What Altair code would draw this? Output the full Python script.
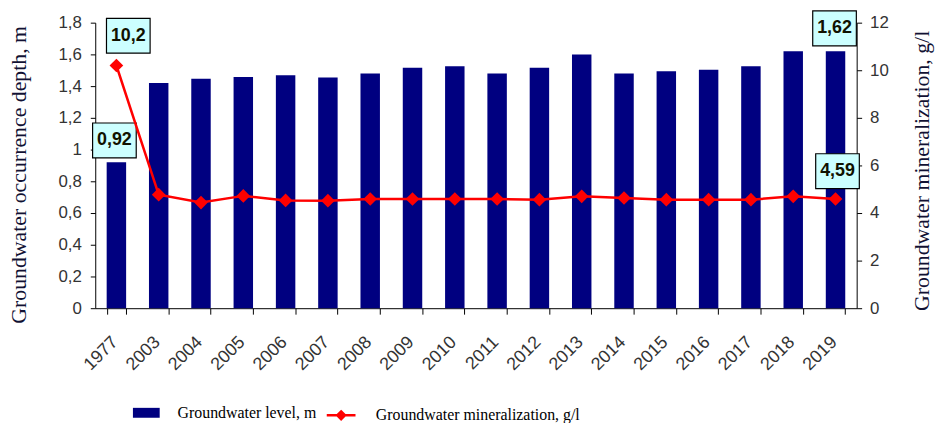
import altair as alt
import pandas as pd

years = ["1977", "2003", "2004", "2005", "2006", "2007", "2008", "2009", "2010",
         "2011", "2012", "2013", "2014", "2015", "2016", "2017", "2018", "2019"]
level = [0.92, 1.42, 1.447, 1.457, 1.468, 1.455, 1.48, 1.515, 1.526,
         1.48, 1.515, 1.60, 1.48, 1.493, 1.503, 1.526, 1.62, 1.62]
mineral = [10.2, 4.77, 4.44, 4.72, 4.53, 4.52, 4.59, 4.59, 4.59,
           4.59, 4.56, 4.70, 4.63, 4.56, 4.56, 4.56, 4.70, 4.59]
left_ticks = [0, 0.2, 0.4, 0.6, 0.8, 1.0, 1.2, 1.4, 1.6, 1.8]
right_ticks = [0, 2, 4, 6, 8, 10, 12]
level_name = "Groundwater level, m"
mineral_name = "Groundwater mineralization, g/l"

df = pd.DataFrame({"year": years, "level": level, "mineral": mineral})
df["lvl"] = level_name
df["mnr"] = mineral_name

SERIF = "Liberation Serif"
SANS = "Liberation Sans"
comma_expr = "replace(format(datum.value, '~g'), '.', ',')"

X = alt.X("year:N", sort=None, title=None,
          scale=alt.Scale(paddingInner=0.54, paddingOuter=0.27),
          axis=alt.Axis(tickBand="extent", labelAngle=-45, labelAlign="right",
                        labelBaseline="top", labelOffset=-8, labelPadding=19,
                        tickSize=6, labelFont=SANS, labelFontSize=18,
                        labelColor="#333333", domainColor="black",
                        tickColor="black"))

Yl = alt.Y("level:Q", title="Groundwater occurrence depth, m",
           scale=alt.Scale(domain=[0, 1.8], nice=False),
           axis=alt.Axis(values=left_ticks, labelExpr=comma_expr, grid=False,
                         tickSize=5, labelPadding=9, labelFont=SANS,
                         labelFontSize=17, labelColor="#333333",
                         domainColor="black", tickColor="black",
                         titleFont=SERIF, titleFontSize=22,
                         titleFontWeight="normal", titleColor="#111133",
                         titleX=-77, titleY=153, titleBaseline="middle",
                         titleAngle=-90))

Yr = alt.Y("mineral:Q", title="Groundwater mineralization, g/l",
           scale=alt.Scale(domain=[0, 12], nice=False),
           axis=alt.Axis(orient="right", values=right_ticks, grid=False,
                         tickSize=5, labelPadding=8, labelFont=SANS,
                         labelFontSize=17, labelColor="#333333",
                         domainColor="black", tickColor="black",
                         titleFont=SERIF, titleFontSize=22,
                         titleFontWeight="normal", titleColor="#111133",
                         titleX=65, titleY=149, titleBaseline="middle",
                         titleAngle=-90))

BOX = "M-1,-0.8 L1,-0.8 L1,0.8 L-1,0.8 Z"

base_l = alt.Chart(df).encode(x=X, y=Yl)
base_r = alt.Chart(df).encode(x=X, y=Yr)


def annot(base, year, field, dx, dy):
    sub = base.transform_filter(alt.datum.year == year).transform_calculate(
        lab=f"replace(format(datum.{field}, '~g'), '.', ',')")
    box = sub.mark_point(shape=BOX, size=1936, filled=True, fill="#CCFFFF",
                         stroke="black", strokeWidth=1.2, opacity=1,
                         xOffset=dx, yOffset=dy)
    txt = sub.mark_text(font=SANS, fontSize=18, fontWeight="bold",
                        color="#111100", dx=dx, dy=dy, baseline="middle",
                        align="center").encode(text="lab:N")
    return [box, txt]


bars = base_l.mark_bar(color="#000080").encode(
    color=alt.Color("lvl:N", scale=alt.Scale(range=["#000080"]),
                    legend=alt.Legend(orient="none", legendX=38, legendY=380,
                                      title=None, padding=0, labelLimit=400,
                                      symbolType="M-1,-0.37 L1,-0.37 L1,0.37 L-1,0.37 Z",
                                      symbolSize=729, symbolStrokeWidth=0,
                                      labelFont=SERIF, labelFontSize=16,
                                      labelColor="black", labelOffset=18)))

left = alt.layer(bars,
                 *annot(base_l, "1977", "level", -2, -22),
                 *annot(base_l, "2019", "level", -1, -23))

line = base_r.mark_line(strokeWidth=2.5).encode(
    stroke=alt.Stroke("mnr:N", scale=alt.Scale(range=["#FF0000"]),
                      legend=alt.Legend(orient="none", legendX=232, legendY=380,
                                        title=None, padding=0, labelLimit=400,
                                        symbolType="M-1,0 L1,0 M0,-0.27 L0.27,0 L0,0.27 L-0.27,0 Z",
                                        symbolSize=841, symbolStrokeWidth=2.5,
                                        symbolFillColor="#FF0000",
                                        labelFont=SERIF, labelFontSize=16,
                                        labelColor="black", labelOffset=19)))
pts = base_r.mark_point(shape="diamond", size=190, filled=True,
                        color="#FF0000", opacity=1)

right = alt.layer(line, pts,
                  *annot(base_r, "1977", "mineral", 12, -30),
                  *annot(base_r, "2019", "mineral", 2, -28))

chart = alt.layer(left, right).resolve_scale(
    y="independent", color="independent", stroke="independent"
).properties(
    width=768, height=288,
    autosize=alt.AutoSizeParams(type="none"),
    padding={"left": 88, "top": 13, "right": 79, "bottom": 114},
).configure_view(stroke=None)

chart.save("out.html", embed_options={"renderer": "svg", "actions": False})
